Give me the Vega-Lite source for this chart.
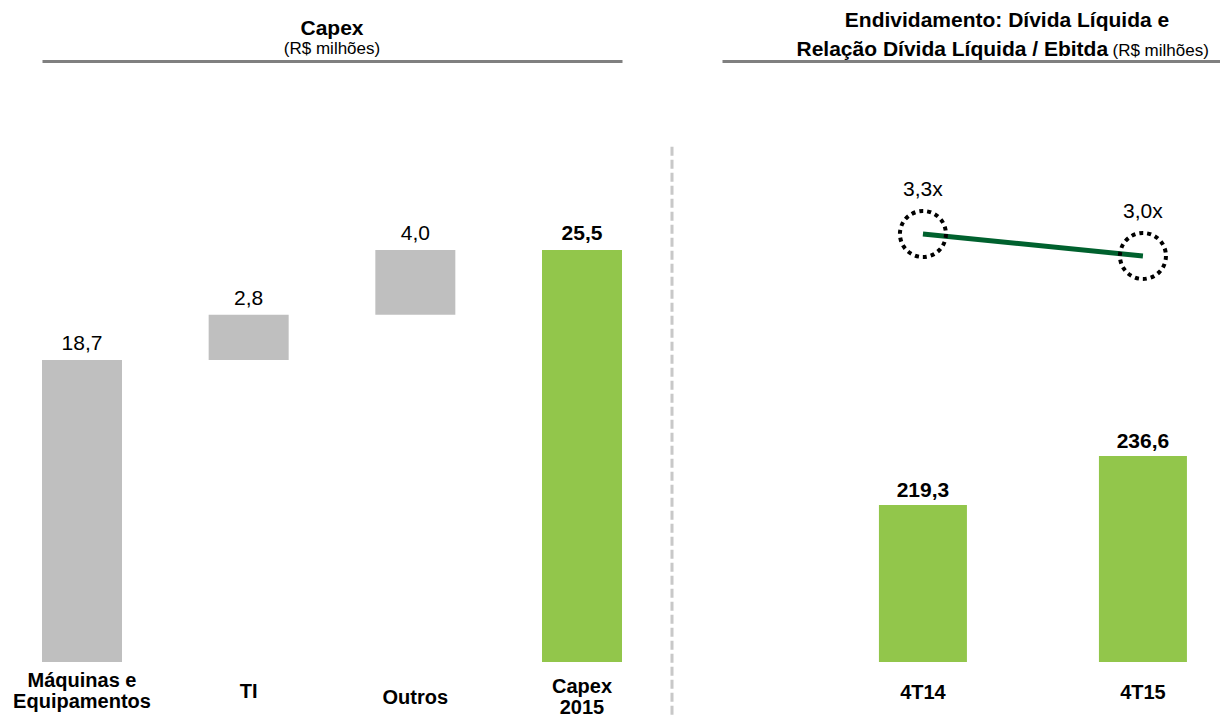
{
  "$schema": "https://vega.github.io/schema/vega-lite/v6.json",
  "background": "white",
  "padding": {"left": 12, "top": 10, "right": 0, "bottom": 0},
  "autosize": {"type": "pad"},
  "spacing": 48,
  "config": {
    "locale": {"number": {"decimal": ",", "thousands": ".", "grouping": [3], "currency": ["R$ ", ""]}},
    "view": {"stroke": null},
    "font": "Liberation Sans",
    "axis": {"grid": false},
    "text": {"color": "black"}
  },
  "hconcat": [
    {
      "width": 580,
      "height": 601,
      "data": {"values": [
        {"cat": "Máquinas e Equipamentos", "start": 0, "end": 18.7, "value": 18.7, "kind": "step"},
        {"cat": "TI", "start": 18.7, "end": 21.5, "value": 2.8, "kind": "step"},
        {"cat": "Outros", "start": 21.5, "end": 25.5, "value": 4.0, "kind": "step"},
        {"cat": "Capex 2015", "start": 0, "end": 25.5, "value": 25.5, "kind": "total"}
      ]},
      "title": {"text": "Capex", "subtitle": "(R$ milhões)", "fontSize": 21, "fontWeight": "bold", "color": "black", "subtitleFontSize": 17, "subtitleFontWeight": "normal", "subtitleColor": "black", "anchor": "middle", "frame": "group", "offset": 4, "subtitlePadding": 2},
      "layer": [
        {
          "mark": {"type": "bar"},
          "encoding": {
            "x": {"field": "cat", "type": "nominal", "sort": null,
              "scale": {"paddingInner": 0.52, "paddingOuter": 0},
              "axis": {"orient": "bottom", "title": null, "domain": false, "ticks": false, "labelAngle": 0, "labelFontSize": 20, "labelFontWeight": "bold", "labelColor": "black", "labelBaseline": "middle", "labelLineHeight": 21, "labelLimit": 0,
                "labelPadding": {"condition": [
                  {"test": "datum.value == 'Máquinas e Equipamentos'", "value": 18},
                  {"test": "datum.value == 'Capex 2015'", "value": 24},
                  {"test": "datum.value == 'Outros'", "value": 35}
                ], "value": 29},
                "labelExpr": "datum.label == 'Máquinas e Equipamentos' ? ['Máquinas e', 'Equipamentos'] : datum.label == 'Capex 2015' ? ['Capex', '2015'] : datum.label"}},
            "y": {"field": "start", "type": "quantitative", "scale": {"domain": [0, 37.2], "nice": false}, "axis": null},
            "y2": {"field": "end"},
            "color": {"field": "kind", "type": "nominal", "scale": {"domain": ["step", "total"], "range": ["#BFBFBF", "#92C64B"]}, "legend": null}
          }
        },
        {
          "transform": [{"filter": "datum.kind == 'step'"}],
          "mark": {"type": "text", "fontSize": 21, "baseline": "alphabetic", "dy": -10, "color": "black"},
          "encoding": {
            "x": {"field": "cat", "type": "nominal", "sort": null,
              "axis": {"orient": "top", "title": null, "labels": false, "ticks": false, "domain": true, "domainColor": "#808080", "domainWidth": 3}},
            "y": {"field": "end", "type": "quantitative"},
            "text": {"field": "value", "type": "quantitative", "format": ".1f"}
          }
        },
        {
          "transform": [{"filter": "datum.kind == 'total'"}],
          "mark": {"type": "text", "fontSize": 21, "fontWeight": "bold", "baseline": "alphabetic", "dy": -10, "color": "black"},
          "encoding": {
            "x": {"field": "cat", "type": "nominal", "sort": null, "axis": null},
            "y": {"field": "end", "type": "quantitative"},
            "text": {"field": "value", "type": "quantitative", "format": ".1f"}
          }
        }
      ],
      "resolve": {"axis": {"x": "independent"}}
    },
    {
      "width": 2,
      "height": 601,
      "data": {"values": [{}]},
      "mark": {"type": "rule", "color": "#C8C8C8", "strokeWidth": 3, "strokeDash": [9, 4]},
      "encoding": {
        "y": {"datum": 31.9, "type": "quantitative", "scale": {"domain": [0, 37.2], "nice": false}, "axis": null},
        "y2": {"datum": -3.4}
      }
    },
    {
      "width": 498,
      "height": 601,
      "data": {"values": [
        {"q": "4T14", "debt": 219.3, "ratio": 3.3, "ratioLabel": "3,3x"},
        {"q": "4T15", "debt": 236.6, "ratio": 3.0, "ratioLabel": "3,0x"}
      ]},
      "title": {"text": "Endividamento: Dívida Líquida e", "fontSize": 21, "fontWeight": "bold", "color": "black", "anchor": "middle", "frame": "group", "dx": 36, "offset": 7},
      "layer": [
        {
          "layer": [
            {
              "mark": {"type": "bar", "color": "#92C64B"},
              "encoding": {
                "x": {"field": "q", "type": "nominal", "sort": null,
                  "scale": {"paddingInner": 0.6, "paddingOuter": 0.4318, "align": 0.826},
                  "axis": {"orient": "bottom", "title": null, "domain": false, "ticks": false, "labelAngle": 0, "labelFontSize": 20, "labelFontWeight": "bold", "labelColor": "black", "labelPadding": 30, "labelBaseline": "middle"}},
                "y": {"field": "debt", "type": "quantitative", "scale": {"domain": [163.9, 376.1], "zero": false, "nice": false}, "axis": null},
                "y2": {"datum": 163.9}
              }
            },
            {
              "mark": {"type": "text", "fontSize": 21, "fontWeight": "bold", "baseline": "alphabetic", "dy": -8, "color": "black"},
              "encoding": {
                "x": {"field": "q", "type": "nominal", "sort": null},
                "y": {"field": "debt", "type": "quantitative", "axis": null},
                "text": {"field": "debt", "type": "quantitative", "format": ".1f"}
              }
            }
          ]
        },
        {
          "layer": [
            {
              "mark": {"type": "line", "color": "#00612E", "strokeWidth": 5},
              "encoding": {
                "x": {"field": "q", "type": "nominal", "sort": null,
                  "axis": {"orient": "top", "title": "Relação Dívida Líquida / Ebitda", "titleFontSize": 21, "titleFontWeight": "bold", "titleColor": "black", "titleX": 74, "titleY": -6, "titleAlign": "left", "titleBaseline": "alphabetic", "labels": false, "ticks": false, "domain": true, "domainColor": "#808080", "domainWidth": 3}},
                "y": {"field": "ratio", "type": "quantitative", "scale": {"domain": [-2.54, 5.66], "zero": false, "nice": false},
                  "axis": {"orient": "left", "title": "(R$ milhões)", "titleAngle": 0, "titleX": 390, "titleY": -6, "titleAlign": "left", "titleBaseline": "alphabetic", "titleFontSize": 17, "titleFontWeight": "normal", "titleColor": "black", "labels": false, "ticks": false, "domain": false}}
              }
            },
            {
              "mark": {"type": "point", "shape": "circle", "filled": false, "size": 2116, "stroke": "black", "strokeWidth": 4, "strokeDash": [4, 4], "opacity": 1},
              "encoding": {
                "x": {"field": "q", "type": "nominal", "sort": null},
                "y": {"field": "ratio", "type": "quantitative"}
              }
            },
            {
              "mark": {"type": "text", "fontSize": 21, "baseline": "alphabetic", "dy": -38, "color": "black"},
              "encoding": {
                "x": {"field": "q", "type": "nominal", "sort": null},
                "y": {"field": "ratio", "type": "quantitative"},
                "text": {"field": "ratioLabel", "type": "nominal"}
              }
            }
          ]
        }
      ],
      "resolve": {"scale": {"y": "independent"}, "axis": {"x": "independent", "y": "independent"}}
    }
  ]
}
